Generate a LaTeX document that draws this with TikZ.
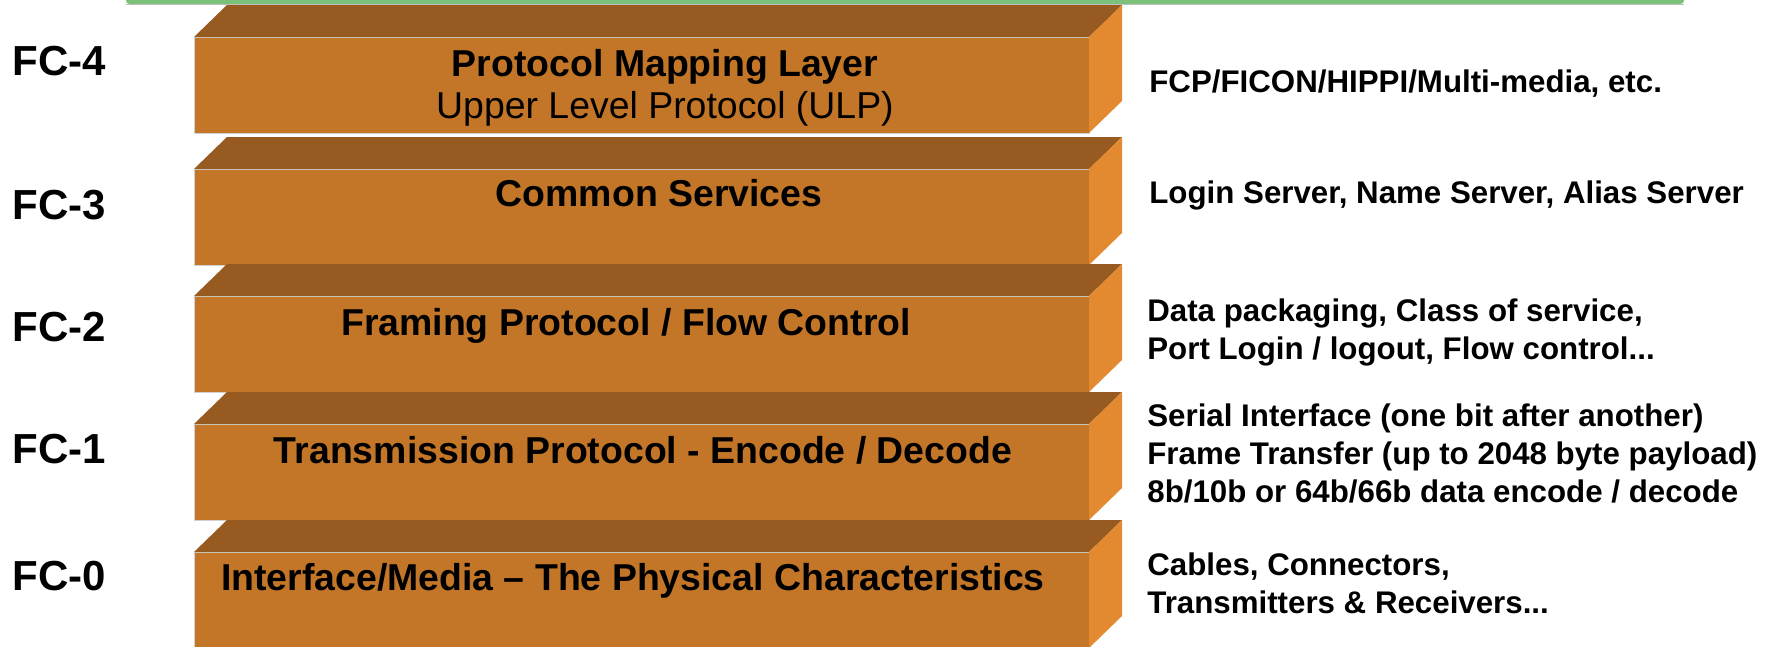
\documentclass[tikz,border=0pt]{standalone}
\usepackage{fontspec}
\setmainfont{Liberation Sans}
\usepackage{xcolor}
\usepackage{tikz}
\usetikzlibrary{positioning}
\definecolor{layertop}{RGB}{151, 90, 32}
\definecolor{layerfront}{RGB}{195, 118, 40}
\definecolor{layerside}{RGB}{227, 138, 49}
\definecolor{ulpgreen}{RGB}{123, 193, 122}

\tikzset{
    topface/.style={fill=layertop},
    frontface/.style={fill=layerfront, draw=black!18, line width=0.5pt},
    sideface/.style={fill=layerside},
    fclabel/.style={font=\fontsize{23.9}{28}\selectfont\bfseries, anchor=base west, inner sep=0pt},
    layertitle/.style={font=\fontsize{21.3}{25}\selectfont\bfseries, anchor=base, inner sep=0pt},
    layersub/.style={font=\fontsize{21.3}{25}\selectfont, anchor=base, inner sep=0pt},
    layernote/.style={font=\fontsize{17.8}{21.6}\selectfont\bfseries, anchor=base west, inner sep=0pt, align=left}
}

\begin{document}
\begin{tikzpicture}[x=0.02cm, y=-0.02cm]
        \useasboundingbox (0, 0) rectangle (1781, 646);

        % Upper bar (cut off)
        \fill[ulpgreen, rounded corners=2pt] (126, -12) rectangle (1684, 4);
        \draw[black!25, line width=0.6pt] (126, 4.5) -- (1684, 4.5);

        % Level FC-4
        \draw[frontface] (194, 37) rectangle (1089, 133);
        \fill[topface] (194, 37) -- (227, 5) -- (1122, 5) -- (1089, 37) -- cycle;
        \fill[sideface] (1089, 37) -- (1122, 5) -- (1122, 101) -- (1089, 133) -- cycle;
        \node[layertitle] (fc4title) at (665, 76) {Protocol Mapping Layer};
        \node[layersub] (fc4sub) at (665, 118) {Upper Level Protocol (ULP)};
        \node[fclabel] (fc4) at (12, 75) {FC-4};
        \node[layernote] (fc4note) at (1149, 92) {FCP/FICON/HIPPI/Multi-media, etc.};

        % Level FC-3
        \draw[frontface] (194, 169) rectangle (1089, 265);
        \fill[topface] (194, 169) -- (227, 137) -- (1122, 137) -- (1089, 169) -- cycle;
        \fill[sideface] (1089, 169) -- (1122, 137) -- (1122, 233) -- (1089, 265) -- cycle;
        \node[layertitle] (fc3title) at (659, 206) {Common Services};
        \node[fclabel] (fc3) at (12, 219) {FC-3};
        \node[layernote] (fc3note) at (1149, 203) {Login Server, Name Server, Alias Server};

        % Level FC-2
        \draw[frontface] (194, 296) rectangle (1089, 392);
        \fill[topface] (194, 296) -- (227, 264) -- (1122, 264) -- (1089, 296) -- cycle;
        \fill[sideface] (1089, 296) -- (1122, 264) -- (1122, 360) -- (1089, 392) -- cycle;
        \node[layertitle] (fc2title) at (626, 335) {Framing Protocol / Flow Control};
        \node[fclabel] (fc2) at (12, 341) {FC-2};
        \node[layernote] (fc2note) at (1147, 359) {Data packaging, Class of service,\\Port Login / logout, Flow control...};

        % Level FC-1
        \draw[frontface] (194, 424) rectangle (1089, 520);
        \fill[topface] (194, 424) -- (227, 392) -- (1122, 392) -- (1089, 424) -- cycle;
        \fill[sideface] (1089, 424) -- (1122, 392) -- (1122, 488) -- (1089, 520) -- cycle;
        \node[layertitle] (fc1title) at (643, 463) {Transmission Protocol - Encode / Decode};
        \node[fclabel] (fc1) at (12, 463) {FC-1};
        \node[layernote] (fc1note) at (1147, 502) {Serial Interface (one bit after another)\\Frame Transfer (up to 2048 byte payload)\\8b/10b or 64b/66b data encode / decode};

        % Level FC-0
        \draw[frontface] (194, 552) rectangle (1089, 648);
        \fill[topface] (194, 552) -- (227, 520) -- (1122, 520) -- (1089, 552) -- cycle;
        \fill[sideface] (1089, 552) -- (1122, 520) -- (1122, 616) -- (1089, 648) -- cycle;
        \node[layertitle] (fc0title) at (633, 590) {Interface/Media -- The Physical Characteristics};
        \node[fclabel] (fc0) at (12, 590) {FC-0};
        \node[layernote] (fc0note) at (1147, 613) {Cables, Connectors,\\Transmitters \& Receivers...};
\end{tikzpicture}
\end{document}
